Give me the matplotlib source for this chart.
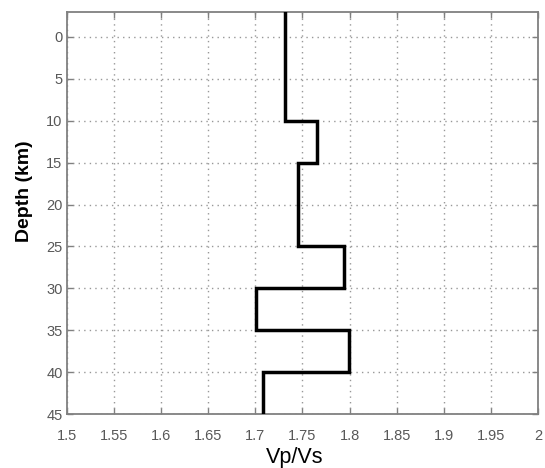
import matplotlib
matplotlib.use('Agg')
import matplotlib.pyplot as plt
import numpy as np

# layer tops (km) and Vp/Vs of each layer
layer_top = [-3, 10, 15, 25, 30, 35, 40]
layer_bottom = 45
vpvs = [1.731, 1.765, 1.745, 1.794, 1.701, 1.799, 1.708]

x_ticks = [1.5, 1.55, 1.6, 1.65, 1.7, 1.75, 1.8, 1.85, 1.9, 1.95, 2.0]
x_tick_labels = ['1.5', '1.55', '1.6', '1.65', '1.7', '1.75', '1.8', '1.85', '1.9', '1.95', '2']
y_ticks = [0, 5, 10, 15, 20, 25, 30, 35, 40, 45]

plt.rcParams['font.family'] = ['Liberation Sans', 'DejaVu Sans']

fig = plt.figure(figsize=(5.45, 4.68), dpi=100)
ax = fig.add_axes([0.1225, 0.115, 0.865, 0.86])

# build the step profile from the layers
depths = np.repeat(layer_top + [layer_bottom], 2)[1:-1]
values = np.repeat(vpvs, 2)
ax.plot(values, depths, color='black', linewidth=2.5, solid_joinstyle='miter', zorder=3)

# axes setup, matlab style
ax.set_xlim(1.5, 2.0)
ax.set_ylim(45, -3)
ax.set_xticks(x_ticks)
ax.set_xticklabels(x_tick_labels)
ax.set_yticks(y_ticks)
ax.grid(True, linestyle=(0, (1, 3)), color='#989898', linewidth=1.0)
ax.tick_params(axis='both', direction='in', top=True, right=True, length=4,
               width=1.0, color='#808080', labelcolor='#585858', labelsize=10.5)
ax.tick_params(axis='x', pad=11)
ax.tick_params(axis='y', pad=3)

for spine in ['top', 'bottom', 'left', 'right']:
    ax.spines[spine].set_color('#808080')
    ax.spines[spine].set_linewidth(1.3)

ax.set_xlabel('Vp/Vs', fontsize=15.5, va='baseline')
ax.xaxis.set_label_coords(0.483, -0.121)
ax.set_ylabel('Depth (km)', fontsize=14, fontweight='bold')
ax.yaxis.set_label_coords(-0.072, 0.555)

fig.savefig('out.png', dpi=100)
